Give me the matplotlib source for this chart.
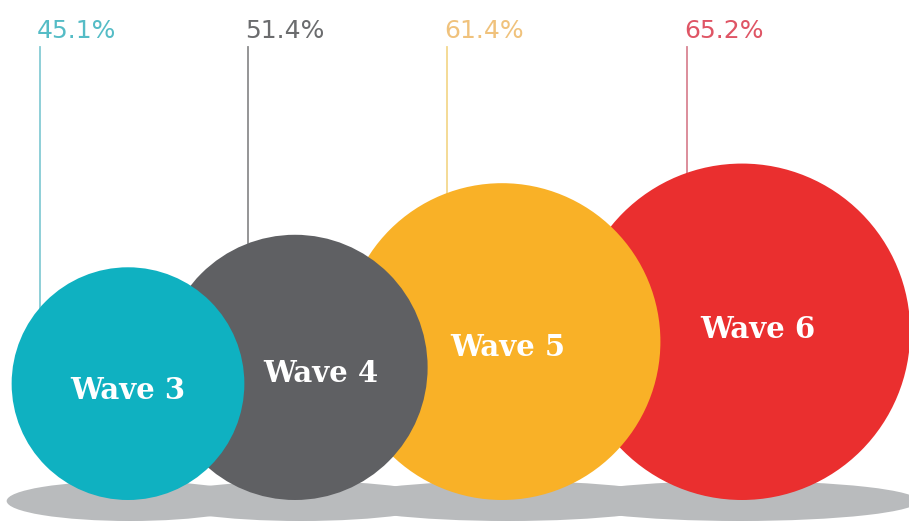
import matplotlib.pyplot as plt
from matplotlib.patches import Circle, Ellipse
import numpy as np

waves = ['Wave 3', 'Wave 4', 'Wave 5', 'Wave 6']
values = [45.1, 51.4, 61.4, 65.2]
pct_labels = ['45.1%', '51.4%', '61.4%', '65.2%']

# styling / layout
fill = ['#0fb1c1', '#5f6063', '#f9b127', '#ea2f2f']
text_col = ['#55bcc6', '#6b6c6e', '#f0c27c', '#df5565']
line_col = ['#86ccd4', '#8c8c8e', '#f3d88e', '#d98593']
cx = [128, 295, 502, 742]          # circle centres (px)
line_x = [40, 248, 447, 687]       # leader line positions
label_dx = [0, 26, 6, 16]          # wave label offsets from centre
label_dy = [7, 6, 6, -2]
shadow_dx = [2, 6, 6, -2]
zorders = [5, 4, 3, 2]
scale = 2.58                       # px of radius per percent
floor = 500                        # bottom of circles

fig = plt.figure(figsize=(9.09, 5.23), dpi=100)
ax = fig.add_axes([0, 0, 1, 1])
ax.set_xlim(0, 909)
ax.set_ylim(523, 0)
ax.set_aspect('equal')
ax.axis('off')

for i, v in enumerate(values):
    r = v * scale
    cy = floor - r
    # shadow
    ax.add_patch(Ellipse((cx[i] + shadow_dx[i], 501), 2 * r * 1.06, 40,
                         facecolor='#b9bbbd', edgecolor='none', zorder=1))
    # bubble
    ax.add_patch(Circle((cx[i], cy), r, facecolor=fill[i],
                        edgecolor='none', zorder=zorders[i]))
    ax.text(cx[i] + label_dx[i], cy + label_dy[i], waves[i], color='white',
            fontsize=21, fontweight='bold', family='DejaVu Serif',
            ha='center', va='center', zorder=10)
    # leader line to the top of the bubble
    dx = line_x[i] - cx[i]
    y_end = cy - np.sqrt(max(r ** 2 - dx ** 2, 0))
    ax.plot([line_x[i], line_x[i]], [47, y_end], color=line_col[i],
            lw=1.3, zorder=0.5)
    ax.text(line_x[i] - 3, 31, pct_labels[i], color=text_col[i],
            fontsize=18, ha='left', va='center', family='DejaVu Sans')

fig.savefig('out.png', dpi=100)
